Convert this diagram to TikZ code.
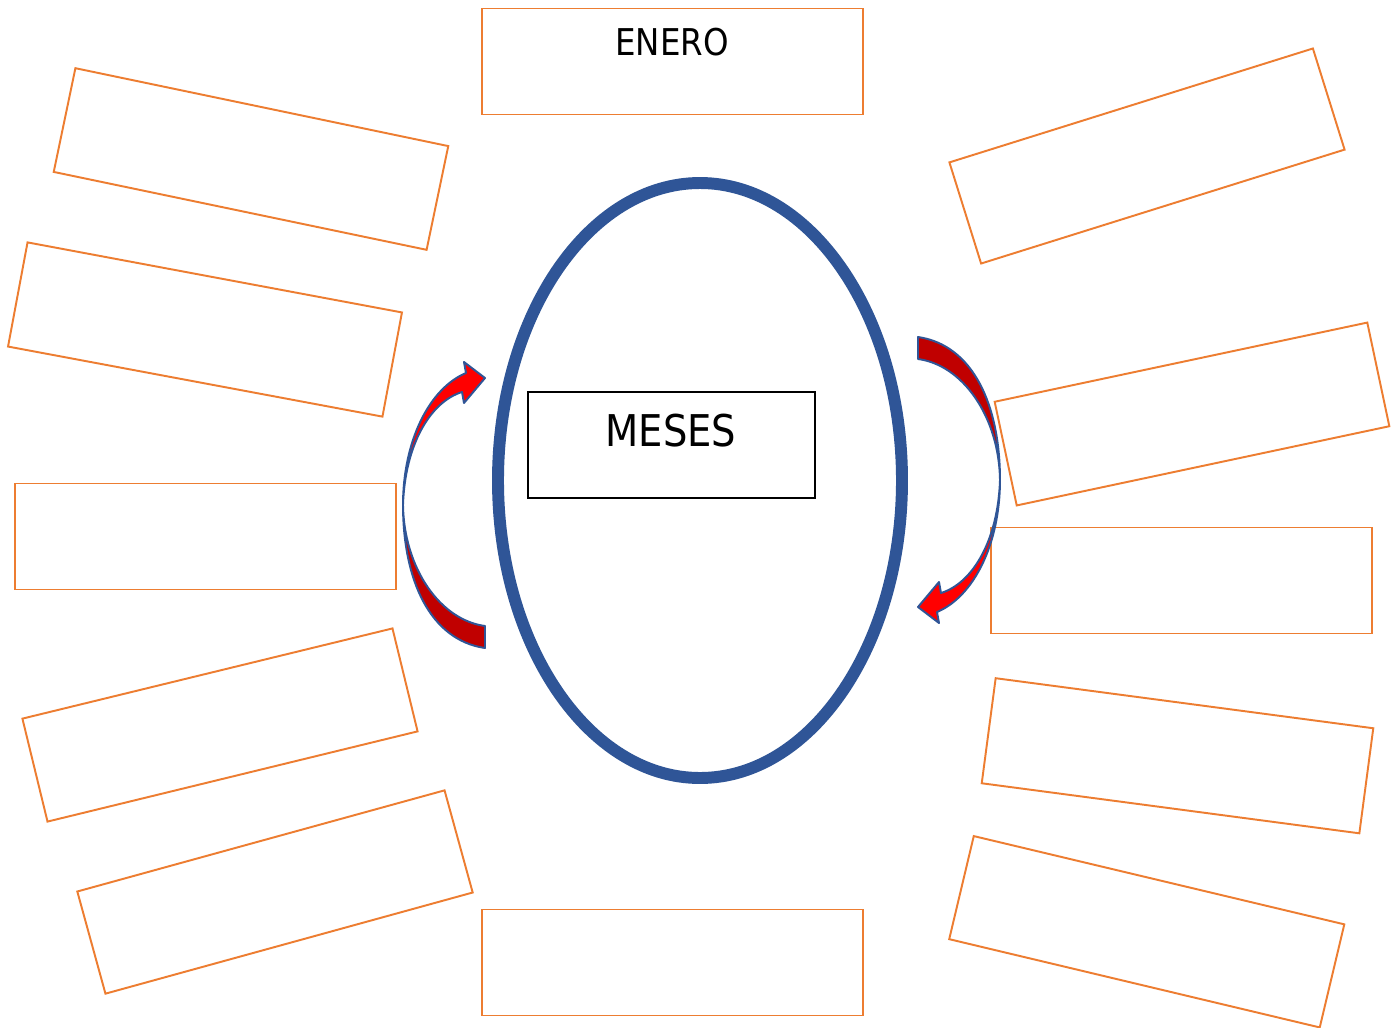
\documentclass[tikz,border=0pt]{standalone}
\usepackage{fontspec}
\setmainfont{DejaVu Sans}[FakeStretch=0.88]
\definecolor{boxorange}{HTML}{ED7D31}
\definecolor{ringblue}{HTML}{2F5597}
\definecolor{arrowred}{HTML}{FF0000}
\definecolor{arrowdark}{HTML}{C00000}
\begin{document}
\begin{tikzpicture}[x=0.02cm,y=-0.02cm,
  mbox/.style={draw=boxorange,line width=1.1pt,minimum width=7.62cm,minimum height=2.12cm,inner sep=0pt,fill=white},
  arrowpart/.style={draw=ringblue,line width=1.1pt,line join=round},
  label text/.style={inner sep=0pt,anchor=base}]
\useasboundingbox (0,0) rectangle (1400,1028);
\fill[white] (0,0) rectangle (1400,1028);
% left boxes
\node[mbox,rotate=-11.8] (l1) at (251,159) {};
\node[mbox,rotate=-10.6] (l2) at (205,329.5) {};
\node[mbox] (l3) at (205.5,536.5) {};
\node[mbox,rotate=13.7] (l4) at (220,725) {};
\node[mbox,rotate=15.4] (l5) at (275,892) {};
% top and bottom
\node[mbox] (top) at (672.5,61.5) {};
\node[label text,font=\fontsize{21}{24}\selectfont] (enero) at (672,55) {ENERO};
\node[mbox] (bottom) at (672.5,962.5) {};
% right boxes
\node[mbox,rotate=17.4] (r1) at (1147,156) {};
\node[mbox,rotate=12] (r2) at (1192,414) {};
\node[mbox] (r3) at (1181.5,580.5) {};
\node[mbox,rotate=-7.55] (r4) at (1177.5,755.75) {};
\node[mbox,rotate=-13.4] (r5) at (1146.75,931.75) {};
% ring
\draw[ringblue,line width=6.8pt] (700,480.5) ellipse [x radius=202, y radius=297.5];
% center box
\node[draw=black,line width=1.1pt,minimum width=5.74cm,minimum height=2.12cm,inner sep=0pt] (meses box) at (671.5,445) {};
\node[label text,font=\fontsize{24.9}{28}\selectfont] (meses) at (671,446) {MESES};
% left curved arrow
\begin{scope}
\path[arrowpart,fill=arrowdark] (485,626) -- (485,648) .. controls (430,640) and (403,580) .. (403,505)
  .. controls (404,568) and (440,620) .. (485,626) -- cycle;
\path[arrowpart,fill=arrowred] (403,505) .. controls (403,440) and (430,388) .. (466,373)
  -- (464,362) -- (485,378) -- (464,403) -- (462,392)
  .. controls (430,402) and (405,445) .. (403,505) -- cycle;
\end{scope}
% right curved arrow (point reflection of the left one)
\begin{scope}[rotate around={180:(701.5,492.5)}]
\path[arrowpart,fill=arrowdark] (485,626) -- (485,648) .. controls (430,640) and (403,580) .. (403,505)
  .. controls (404,568) and (440,620) .. (485,626) -- cycle;
\path[arrowpart,fill=arrowred] (403,505) .. controls (403,440) and (430,388) .. (466,373)
  -- (464,362) -- (485,378) -- (464,403) -- (462,392)
  .. controls (430,402) and (405,445) .. (403,505) -- cycle;
\end{scope}
\end{tikzpicture}
\end{document}
